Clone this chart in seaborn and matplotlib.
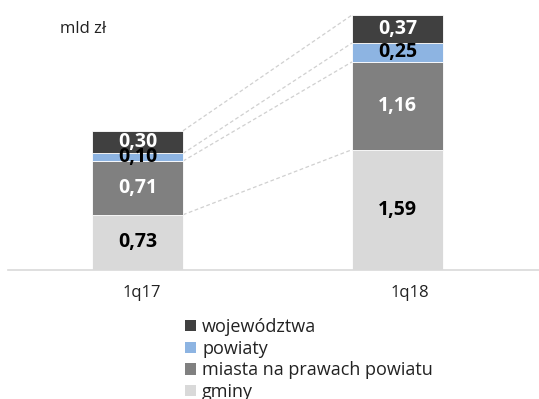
import numpy as np
import pandas as pd
import matplotlib
matplotlib.use("Agg")
import matplotlib.pyplot as plt
import matplotlib.transforms as mtransforms
import seaborn as sns
from matplotlib.patches import Patch

periods = ["1q17", "1q18"]
series = ["gminy", "miasta na prawach powiatu", "powiaty", "województwa"]
gminy = [0.73, 1.59]
miasta = [0.71, 1.16]
powiaty = [0.10, 0.25]
wojewodztwa = [0.30, 0.37]
colors = ["#D9D9D9", "#808080", "#8DB4E2", "#404040"]
label_colors = ["black", "white", "black", "white"]

sns.set_theme(style="white")
plt.rcParams["font.family"] = ["Open Sans", "DejaVu Sans"]

values = [gminy, miasta, powiaty, wojewodztwa]
df = pd.DataFrame({"okres": periods})
for name, vals in zip(series, values):
    df[name] = vals

fig = plt.figure(figsize=(5.39, 3.99), dpi=100)
ax = fig.add_axes([8 / 539, 129 / 399, 531 / 539, 270 / 399])

bar_w = 0.35
bottoms = np.zeros(len(periods))
tops = []
for name, col, lc in zip(series, colors, label_colors):
    sns.barplot(data=df, x="okres", y=name, order=periods, color=col,
                width=bar_w, bottom=bottoms, ax=ax, saturation=1,
                edgecolor="white", linewidth=0.6)
    vals = df[name].to_numpy()
    for i, v in enumerate(vals):
        ax.text(i, bottoms[i] + v / 2, f"{v:.2f}".replace(".", ","),
                ha="center", va="center", color=lc, fontsize=14,
                fontweight="bold")
    bottoms = bottoms + vals
    tops.append(bottoms.copy())

# dashed connectors between the tops of matching segments
for t in tops:
    ax.plot([bar_w / 2, 1 - bar_w / 2], [t[0], t[1]], ls=(0, (3, 2)),
            color="#D0D0D0", lw=0.9, zorder=0)

ax.set_xlim(-0.498, 1.544)
ax.set_ylim(0, 3.568)
ax.set_xlabel("")
ax.set_ylabel("")
ax.set_yticks([])
ax.tick_params(axis="x", length=0, labelsize=12, pad=11, colors="#222222")
# nudge category labels slightly to the right
for lbl, dx in zip(ax.get_xticklabels(), [4, 12]):
    lbl.set_transform(lbl.get_transform() +
                      mtransforms.ScaledTranslation(dx / 100, 0,
                                                    fig.dpi_scale_trans))
for s in ["top", "right", "left"]:
    ax.spines[s].set_visible(False)
ax.spines["bottom"].set_color("#D9D9D9")
ax.spines["bottom"].set_linewidth(1.2)

fig.text(60 / 539, 1 - 29 / 399, "mld zł", fontsize=12, va="center",
         ha="left", color="#222222")

handles = [Patch(facecolor=c, edgecolor="none", label=s)
           for s, c in zip(series, colors)][::-1]
fig.legend(handles=handles, loc="upper left",
           bbox_to_anchor=(176 / 539, 1 - 309 / 399), frameon=False,
           fontsize=13, handlelength=0.6, handleheight=0.6,
           handletextpad=0.35, labelspacing=0.2, borderpad=0,
           labelcolor="#222222")

fig.savefig("out.png", dpi=100)
